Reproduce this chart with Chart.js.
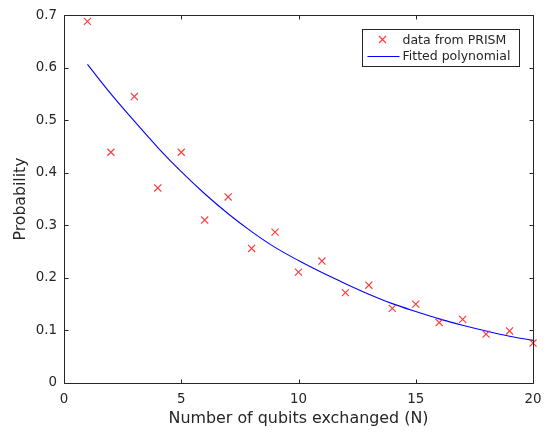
<!DOCTYPE html>
<html><head><meta charset="utf-8">
<script src="https://cdn.jsdelivr.net/npm/chart.js@4.4.0/dist/chart.umd.min.js"></script>
<style>html,body{margin:0;padding:0;background:#fff;}canvas{display:block;}</style>
</head><body>
<canvas id="c" width="552" height="434"></canvas>
<script>
// ---- data ----
const qubits = [1,2,3,4,5,6,7,8,9,10,11,12,13,14,15,16,17,18,19,20];
const prismProbability = [0.688,0.439,0.545,0.371,0.439,0.310,0.354,0.256,0.287,0.211,0.232,0.172,0.186,0.142,0.150,0.115,0.121,0.093,0.099,0.076];
const fittedProbability = [0.606,0.550,0.498,0.448,0.402,0.360,0.322,0.288,0.258,0.233,0.210,0.189,0.169,0.151,0.136,0.122,0.110,0.099,0.089,0.081];
const xTickValues = [0,5,10,15,20];
const yTickValues = [0,0.1,0.2,0.3,0.4,0.5,0.6,0.7];
const seriesNames = ['data from PRISM','Fitted polynomial'];
const xAxisTitle = 'Number of qubits exchanged (N)';
const yAxisTitle = 'Probability';

const FONT = "'DejaVu Sans', 'Liberation Sans', sans-serif";
const TEXT = '#262626';
const RED = 'rgba(255,40,40,0.9)';
const BLUE = '#0000ff';

const framePlugin = {
  id: 'frame',
  afterDatasetsDraw(chart) {
    const {ctx, chartArea: {left, right, top, bottom}, scales: {x, y}} = chart;
    const L = Math.round(left) + 0.5, R = Math.round(right) + 0.5, T = Math.round(top) + 0.5, B = Math.round(bottom) + 0.5;
    ctx.save();
    ctx.strokeStyle = TEXT;
    ctx.lineWidth = 1;
    ctx.beginPath();
    ctx.rect(L, T, R - L, B - T);
    const tl = 4;
    xTickValues.forEach(v => {
      const px = Math.round(x.getPixelForValue(v)) + 0.5;
      ctx.moveTo(px, B); ctx.lineTo(px, B - tl);
      ctx.moveTo(px, T); ctx.lineTo(px, T + tl);
    });
    yTickValues.forEach(v => {
      const py = Math.round(y.getPixelForValue(v)) + 0.5;
      ctx.moveTo(L, py); ctx.lineTo(L + tl, py);
      ctx.moveTo(R, py); ctx.lineTo(R - tl, py);
    });
    ctx.stroke();

    // legend box
    const bw = 157, bh = 37;
    const bx = Math.round(right) - 14 - bw + 0.5, by = Math.round(top) + 14 + 0.5;
    ctx.fillStyle = '#fff';
    ctx.fillRect(bx, by, bw, bh);
    ctx.strokeStyle = TEXT;
    ctx.lineWidth = 1;
    ctx.strokeRect(bx, by, bw, bh);
    // entry 1: marker
    const mx = bx + 20, my = by + 10;
    ctx.strokeStyle = RED;
    ctx.lineWidth = 1.2;
    ctx.beginPath();
    const r = 3.5;
    ctx.moveTo(mx - r, my - r); ctx.lineTo(mx + r, my + r);
    ctx.moveTo(mx - r, my + r); ctx.lineTo(mx + r, my - r);
    ctx.stroke();
    // entry 2: line
    ctx.strokeStyle = BLUE;
    ctx.lineWidth = 1.1;
    ctx.beginPath();
    ctx.moveTo(bx + 5, by + 27); ctx.lineTo(bx + 37, by + 27);
    ctx.stroke();
    ctx.fillStyle = TEXT;
    ctx.font = "12.5px " + FONT;
    ctx.textBaseline = 'middle';
    ctx.textAlign = 'left';
    ctx.fillText(seriesNames[0], bx + 40, by + 11);
    ctx.fillText(seriesNames[1], bx + 40, by + 27);
    ctx.restore();
  }
};

new Chart(document.getElementById('c'), {
  type: 'scatter',
  data: {
    datasets: [
      {
        label: seriesNames[0],
        data: qubits.map((q, i) => ({x: q, y: prismProbability[i]})),
        showLine: false,
        pointStyle: 'crossRot',
        pointRadius: 5,
        pointHoverRadius: 5,
        borderColor: RED,
        backgroundColor: RED,
        pointBorderColor: RED,
        pointBorderWidth: 1.2,
        clip: false
      },
      {
        label: seriesNames[1],
        data: qubits.map((q, i) => ({x: q, y: fittedProbability[i]})),
        showLine: true,
        pointRadius: 0,
        borderColor: BLUE,
        borderWidth: 1.1,
        cubicInterpolationMode: 'monotone',
        fill: false
      }
    ]
  },
  options: {
    responsive: false,
    animation: false,
    events: [],
    layout: {padding: {top: 12, right: 19, left: 0, bottom: 0}},
    plugins: {legend: {display: false}, tooltip: {enabled: false}},
    scales: {
      x: {
        type: 'linear', min: 0, max: 20,
        afterBuildTicks: s => { s.ticks = xTickValues.map(v => ({value: v})); },
        afterFit: s => { s.height = 51; },
        grid: {display: false, drawTicks: false},
        border: {display: false},
        ticks: {color: TEXT, font: {family: FONT, size: 13.4}, padding: 8, maxRotation: 0},
        title: {display: true, text: xAxisTitle, color: TEXT, font: {family: FONT, size: 15.9}, padding: {top: 0, bottom: 5.6}}
      },
      y: {
        type: 'linear', min: 0, max: 0.7,
        afterBuildTicks: s => { s.ticks = yTickValues.map(v => ({value: v})); },
        afterFit: s => { s.width = 64; },
        grid: {display: false, drawTicks: false},
        border: {display: false},
        ticks: {color: TEXT, font: {family: FONT, size: 13.4}, padding: 7, callback: v => String(Math.round(v * 10) / 10)},
        title: {display: true, text: yAxisTitle, color: TEXT, font: {family: FONT, size: 15.7}, padding: {top: 11.6, bottom: 0}}
      }
    }
  },
  plugins: [framePlugin]
});
</script>
</body></html>
